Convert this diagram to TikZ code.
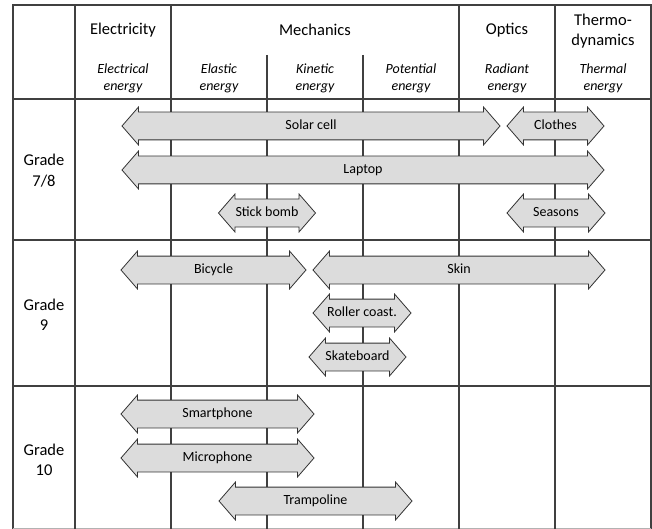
\documentclass[tikz,border=0pt]{standalone}
\usepackage{fontspec}
\setmainfont{Carlito}
\usetikzlibrary{shapes.arrows}
\definecolor{gridline}{RGB}{64,64,64}
\definecolor{arrowfill}{RGB}{220,220,220}
\definecolor{arrowline}{RGB}{50,50,50}
\tikzset{
  energyarrow/.style={double arrow, draw=arrowline, fill=arrowfill, line width=0.8pt,
    double arrow head extend=5pt, double arrow tip angle=98,
    inner xsep=0pt, inner ysep=7pt, text height=10pt, text depth=3pt,
    font=\fontsize{14}{17}\selectfont},
  subject/.style={font=\fontsize{16.5}{20.5}\selectfont, align=center},
  energy/.style={font=\fontsize{14}{17}\selectfont\itshape, align=center},
  grade/.style={font=\fontsize{16.5}{20.5}\selectfont, align=center},
}

\begin{document}
\begin{tikzpicture}[x=1pt, y=-1pt]
\useasboundingbox (0,0) rectangle (652,529);
%----------------------------------
\begin{scope}[draw=gridline, line width=1.3pt]
\draw (13,529) -- (13,5) -- (651,5) -- (651,529);
\draw[gridline!40] (13,529) -- (651,529);
\foreach \x in {75,171,459,555}
  \draw (\x,5) -- (\x,529);
\foreach \x in {267,363}
  \draw (\x,55) -- (\x,529);
\foreach \y in {99,240,386}
  \draw (13,\y) -- (651,\y);
\end{scope}
%----------------------------------
\node[subject] (elec) at (123,30) {Electricity};
\node[subject] (mech) at (315,30) {Mechanics};
\node[subject] (opt) at (507,30) {Optics};
\node[subject] (thermo) at (603,31) {Thermo-\\dynamics};
%----------------------------------
\node[energy] (electrical) at (123,78) {Electrical\\energy};
\node[energy] (elastic) at (219,78) {Elastic\\energy};
\node[energy] (kinetic) at (315,78) {Kinetic\\energy};
\node[energy] (potential) at (411,78) {Potential\\energy};
\node[energy] (radiant) at (507,78) {Radiant\\energy};
\node[energy] (thermal) at (603,78) {Thermal\\energy};
%----------------------------------
\node[grade] (g78) at (44,170.5) {Grade\\7/8};
\node[grade] (g9) at (44,315) {Grade\\9};
\node[grade] (g10) at (44,460) {Grade\\10};
%----------------------------------
\foreach \name/\x/\y/\len/\txt in {
  solar/311/126/378/Solar cell,
  clothes/555.5/126/97/Clothes,
  laptop/363/170/482/Laptop,
  stick/267/213/97/Stick bomb,
  seasons/556/213/98/Seasons,
  bicycle/213.5/270/185/Bicycle,
  skin/459/270/292/Skin,
  roller/362/313/98/Roller coast.,
  skate/357.5/357/97/Skateboard,
  smart/217.5/414/193/Smartphone,
  micro/217.5/458/193/Microphone,
  tramp/315.5/501/193/Trampoline}
  \node[energyarrow, minimum height=\len pt] (\name) at (\x,\y) {\makebox[0pt]{\txt}};
\end{tikzpicture}
\end{document}
